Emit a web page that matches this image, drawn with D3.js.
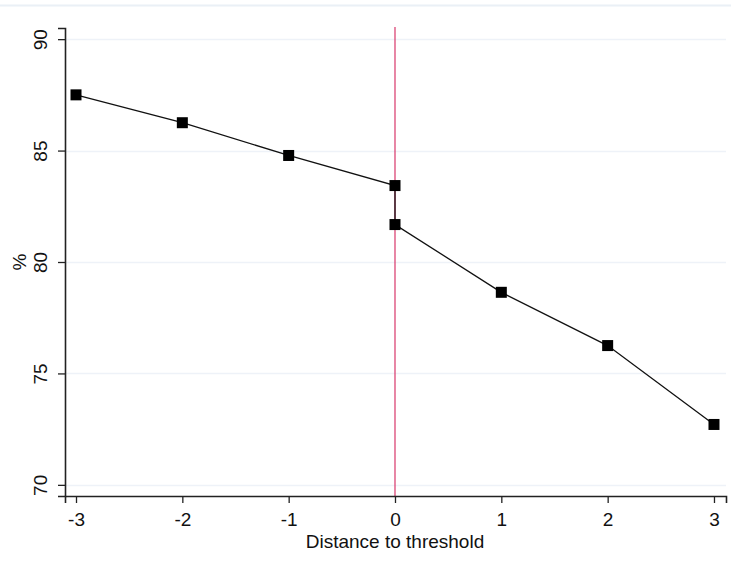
<!DOCTYPE html>
<html><head><meta charset="utf-8">
<script src="https://cdn.jsdelivr.net/npm/d3@7"></script>
<style>
html,body{margin:0;padding:0;background:#fff;}
svg{display:block;font-family:"Liberation Sans",Arial,sans-serif;}
</style></head>
<body><svg id="c" width="731" height="567"></svg>
<script>
const xValues = [-3, -2, -1, 0, 0, 1, 2, 3];
const yValues = [87.50, 86.25, 84.78, 83.43, 81.68, 78.64, 76.25, 72.71];
const xTicks = [-3, -2, -1, 0, 1, 2, 3];
const yTicks = [70, 75, 80, 85, 90];
const threshold = 0;
const xTitle = "Distance to threshold";
const yTitle = "%";

const svg = d3.select("#c");
const x = d3.scaleLinear().domain([-3.1035, 3.113]).range([65, 726]);
const y = d3.scaleLinear().domain([69.5, 90.5]).range([496, 28]);

// top faint border
svg.append("line").attr("x1",0).attr("x2",731).attr("y1",5.5).attr("y2",5.5)
  .attr("stroke","#eaf0f6").attr("stroke-width",2);

// gridlines
svg.append("g").selectAll("line").data(yTicks).join("line")
  .attr("x1",65).attr("x2",726)
  .attr("y1",d=>Math.round(y(d))+0.5).attr("y2",d=>Math.round(y(d))+0.5)
  .attr("stroke","#eef2f8").attr("stroke-width",1.5);

// threshold line
svg.append("line").attr("x1",x(threshold)).attr("x2",x(threshold))
  .attr("y1",27).attr("y2",496)
  .attr("stroke","#d8366a").attr("stroke-width",1.2);

const fmt = d => String(d);

// axes
const yAxis = d3.axisLeft(y).tickValues(yTicks).tickSizeOuter(0).tickSize(7).tickFormat(fmt);
const gy = svg.append("g").attr("transform","translate(65,0)").call(yAxis);
gy.select(".domain").attr("stroke","#222").attr("stroke-width",1.6);
gy.selectAll(".tick line").attr("stroke","#222").attr("stroke-width",1.3);
gy.selectAll(".tick text").attr("font-size",19).attr("fill","#111")
  .attr("font-family","Liberation Sans, Arial, sans-serif")
  .attr("text-anchor","middle").attr("dy",0)
  .attr("transform","rotate(-90)")
  .attr("x",0).attr("y",-18);

const xAxis = d3.axisBottom(x).tickValues(xTicks).tickSizeOuter(0).tickSize(7).tickFormat(fmt);
const gx = svg.append("g").attr("transform","translate(0,496)").call(xAxis);
gx.select(".domain").attr("stroke","#222").attr("stroke-width",1.6);
gx.selectAll(".tick line").attr("stroke","#222").attr("stroke-width",1.3);
gx.selectAll(".tick text").attr("font-size",19).attr("fill","#111")
  .attr("font-family","Liberation Sans, Arial, sans-serif")
  .attr("dy",0).attr("y",30);

// axis titles
svg.append("text").attr("x",x(0)).attr("y",548).attr("text-anchor","middle")
  .attr("font-size",19).attr("fill","#111").text(xTitle);
svg.append("text").attr("transform",`translate(26,${y(80)}) rotate(-90)`)
  .attr("text-anchor","middle").attr("font-size",19).attr("fill","#111").text(yTitle);

// data line
const pts = xValues.map((v,i)=>[v,yValues[i]]);
svg.append("path").datum(pts)
  .attr("d", d3.line().x(d=>x(d[0])).y(d=>y(d[1])))
  .attr("fill","none").attr("stroke","#111").attr("stroke-width",1.3);

// markers
const s = 11;
svg.append("g").selectAll("rect").data(pts).join("rect")
  .attr("x",d=>x(d[0])-s/2).attr("y",d=>y(d[1])-s/2)
  .attr("width",s).attr("height",s).attr("fill","#000");
</script></body></html>
